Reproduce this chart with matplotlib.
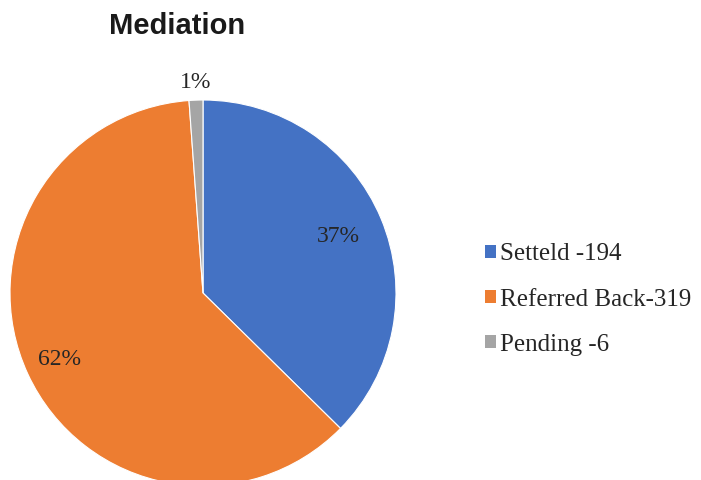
import matplotlib.pyplot as plt
from matplotlib.patches import Patch
from matplotlib.font_manager import FontProperties
import numpy as np

labels = ['Setteld -194', 'Referred Back-319', 'Pending -6']
values = [194, 319, 6]
pct_labels = ['37%', '62%', '1%']
colors = ['#4472C4', '#ED7D31', '#A5A5A5']

plt.rcParams['font.family'] = ['Liberation Serif', 'DejaVu Serif']

W, H = 701, 480
fig = plt.figure(figsize=(W / 100, H / 100), dpi=100)

# pie box in pixels: centre (203, 293), radius 193
cx, cy, r = 203, 293, 193
ax = fig.add_axes([(cx - r) / W, (H - cy - r) / H, 2 * r / W, 2 * r / H])

wedges, _ = ax.pie(values, colors=colors, startangle=90, counterclock=False,
                   wedgeprops=dict(edgecolor='white', linewidth=0.8))
ax.set_xlim(-1, 1)
ax.set_ylim(-1, 1)
ax.set_aspect('auto')

# percent labels, gray one sits outside
dists = [0.76, 0.82, 1.09]
for w, txt, d in zip(wedges, pct_labels, dists):
    ang = np.deg2rad((w.theta1 + w.theta2) / 2)
    ax.text(d * np.cos(ang), d * np.sin(ang), txt, ha='center', va='center',
            fontsize=17, color='#262626', clip_on=False)

fig.text(177 / W, 1 - 26 / H, 'Mediation', ha='center', va='center',
         fontsize=21, fontweight='bold', family='Liberation Sans',
         color='#1a1a1a')

handles = [Patch(facecolor=c, edgecolor='none') for c in colors]
fig.legend(handles, labels, loc='upper left',
           bbox_to_anchor=(463 / W, 1 - 221 / H), frameon=False,
           prop=FontProperties(family='Liberation Serif', size=18),
           labelcolor='#262626', handlelength=0.42, handleheight=0.42,
           handletextpad=0.18, labelspacing=0.92)

fig.savefig('out.png', dpi=100)
